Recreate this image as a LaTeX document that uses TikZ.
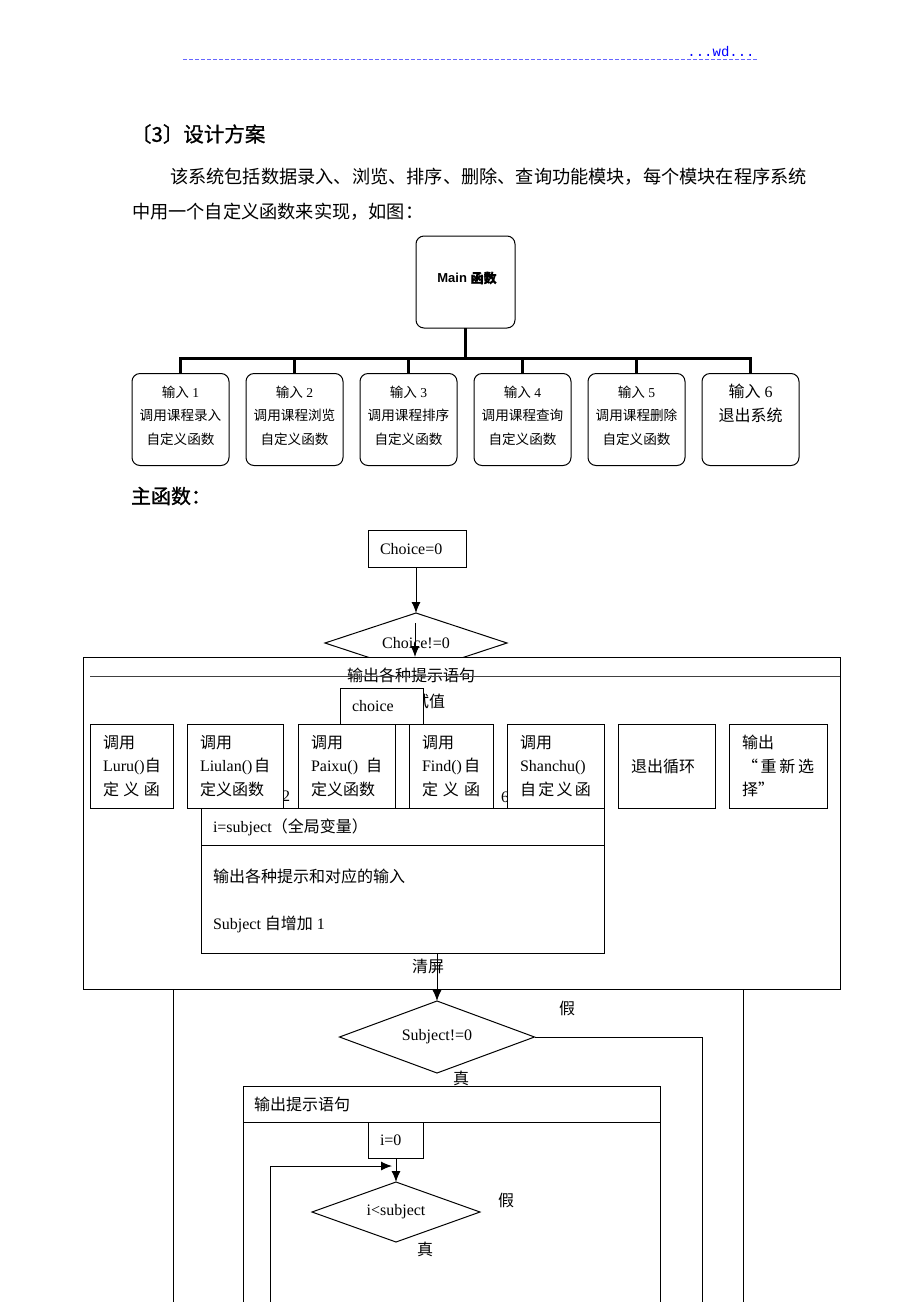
\documentclass[tikz,border=0pt]{standalone}
\usepackage{fontspec}
\usetikzlibrary{shapes.geometric,arrows.meta}
\setmainfont{Liberation Serif}
\newfontfamily\cjk{Noto Sans CJK SC}
\newfontfamily\cjkbold{Noto Sans CJK SC}[FakeBold=1]
\newfontfamily\monofnt{Liberation Mono}
\newfontfamily\sansfnt{Liberation Sans}
\newcommand\zh[1]{{\cjk #1}}
\newcommand\fs[2]{\fontsize{#1}{#2}\selectfont}
\newcommand\jl[2]{\leavevmode\hbox to #1{#2}}
\begin{document}
\begin{tikzpicture}[x=1pt,y=-1pt,
 every node/.style={inner sep=0pt, outer sep=0pt},
 ln/.style={line width=1pt, draw=black},
 fc/.style={draw, line width=1pt, fill=white},
 rbox/.style={draw, line width=1pt, rounded corners=8pt, fill=white, minimum width=97pt, minimum height=92pt},
 thk/.style={line width=3.5pt},
 arr/.style={line width=1pt, -{Latex[length=11pt,width=9pt]}},
 ft/.style={font=\fs{16}{23.5}},
 cbox/.style={fc, minimum height=84pt, align=left, font=\fs{16}{23.5}},
 dia/.style={diamond, draw, line width=1pt, fill=white, aspect=3, font=\fs{16}{20}},
 ttxt/.style={align=center, font=\fs{13.6}{23.5}},
]
\useasboundingbox[fill=white] (0,0) rectangle (920,1302);
\clip (0,0) rectangle (920,1302);

% header
\coordinate (hdl) at (183,59);
\coordinate (hdr) at (757,59);
\draw[blue!60, line width=1pt, dash pattern=on 4pt off 2pt] (hdl) -- (hdr);
\node[text=blue, font=\monofnt\fs{14}{16}] (wd) at (721,52) {...wd...};

% heading and paragraph
\node[anchor=west, font=\cjkbold\fs{20.5}{24}] (h3) at (131,134) {〔3〕设计方案};
\node[anchor=west, font=\cjk\fs{18.2}{20}] (p1) at (170,177) {该系统包括数据录入、浏览、排序、删除、查询功能模块，每个模块在程序系统};
\node[anchor=west, font=\cjk\fs{18.2}{20}] (p2) at (132,212) {中用一个自定义函数来实现，如图：};

% module chart
\node[rbox, minimum width=99pt] (m) at (465.5,282) {};
\node (mt) at (467,278) {\sansfnt\bfseries\fs{13}{15}Main {\cjkbold 函数}};
\foreach \i/\x in {1/180.5,2/294.5,3/408.5,4/522.5,5/636.5,6/750.5}
  \node[rbox] (b\i) at (\x,419.5) {};
\coordinate (bar) at (465.5,359);
\draw[thk] (m.south) -- (bar);
\draw[thk] (b1.north) -- ++(0,-15) -| (b6.north);
\foreach \i in {2,3,4,5} \draw[thk] (b\i.north) -- ++(0,-15);
\node[ttxt] (t1) at (180.5,415.5) {\zh{输入} 1\\\zh{调用课程录入}\\\zh{自定义函数}};
\node[ttxt] (t2) at (294.5,415.5) {\zh{输入} 2\\\zh{调用课程浏览}\\\zh{自定义函数}};
\node[ttxt] (t3) at (408.5,415.5) {\zh{输入} 3\\\zh{调用课程排序}\\\zh{自定义函数}};
\node[ttxt] (t4) at (522.5,415.5) {\zh{输入} 4\\\zh{调用课程查询}\\\zh{自定义函数}};
\node[ttxt] (t5) at (636.5,415.5) {\zh{输入} 5\\\zh{调用课程删除}\\\zh{自定义函数}};
\node[align=center, font=\fs{16}{23.5}] (t6) at (750.5,403.5) {\zh{输入} 6\\\zh{退出系统}};

\node[anchor=west, font=\cjkbold\fs{20}{24}] (zhs) at (131,496) {主函数：};

% flowchart
\node[fc, minimum width=98pt, minimum height=37pt, text width=74pt, align=left, font=\fs{16}{20}] (c0) at (417,549) {Choice=0};
\node[dia, minimum width=182pt, minimum height=60pt] (d1) at (416,643) {Choice!=0};
\draw[arr] (d1.north |- c0.south) -- (d1.north);

\node[fc, minimum width=757pt, minimum height=332pt] (big) at (461.5,823) {};
\coordinate (a2s) at (415,623);
\draw[arr] (a2s) -- (a2s |- big.north);

\node[ft] (out1) at (411,675) {\zh{输出各种提示语句}};
\coordinate (hl) at (90,676);
\draw[black!75, line width=1pt] (hl) -- (hl -| big.east);
\node[anchor=west, ft] (sz) at (413,701) {\zh{试值}};
\node[fc, minimum width=83pt, minimum height=36pt, text width=59pt, align=left, font=\fs{16}{20}] (ch) at (381.5,706) {choice};

\node[ft] (n2) at (286,796) {2};
\node[ft] (n6) at (505,797) {6};

\node[cbox, minimum width=83pt, text width=57pt] (k1) at (131.5,766)
 {\zh{调用}\\\jl{57pt}{Luru()\hfill\zh{自}}\\\jl{57pt}{\zh{定}\hfill\zh{义}\hfill\zh{函}}};
\node[cbox, minimum width=96pt, text width=70pt] (k2) at (235,766)
 {\zh{调用}\\\jl{70pt}{Liulan()\hfill\zh{自}}\\\zh{定义函数}};
\node[cbox, minimum width=97pt, text width=71pt] (k3) at (346.5,766)
 {\zh{调用}\\\jl{71pt}{Paixu()\hfill\zh{自}}\\\zh{定义函数}};
\node[cbox, minimum width=84pt, text width=58pt] (k4) at (451,766)
 {\zh{调用}\\\jl{58pt}{Find()\hfill\zh{自}}\\\jl{58pt}{\zh{定}\hfill\zh{义}\hfill\zh{函}}};
\node[cbox, minimum width=97pt, text width=71pt] (k5) at (555.5,766)
 {\zh{调用}\\Shanchu()\\\jl{71pt}{\zh{自}\hfill\zh{定}\hfill\zh{义}\hfill\zh{函}}};
\node[cbox, minimum width=97pt, text width=71pt] (k6) at (666.5,766) {\zh{退出循环}};
\node[cbox, minimum width=98pt, text width=72pt] (k7) at (778,766)
 {\zh{输出}\\\jl{72pt}{\zh{“}\hfill\zh{重}\hfill\zh{新}\hfill\zh{选}}\\\zh{择”}};

\node[fc, minimum width=403pt, minimum height=145pt] (sub) at (402.5,880.5) {};
\draw[ln] (sub.west |- 0,845) -- (sub.east |- 0,845);
\node[anchor=west, ft] (s1) at (213,827) {i=subject\zh{（全局变量）}};
\node[anchor=west, ft] (s2) at (213,876) {\zh{输出各种提示和对应的输入}};
\node[anchor=west, ft] (s3) at (213,924) {Subject \zh{自增加} 1};

\node[ft] (qp) at (428,966) {\zh{清屏}};
\node[dia, minimum width=195pt, minimum height=72pt] (d2) at (437,1037) {Subject!=0};
\draw[arr] (d2.north |- sub.south) -- (d2.north);

\coordinate (ol1) at (173,989);
\coordinate (ol2) at (743,989);
\draw[ln] (ol1) -- (173,1310);
\draw[ln] (ol2) -- (743,1310);

\node[ft] (f1) at (567,1008) {\zh{假}};
\coordinate (fr) at (702,1310);
\draw[ln] (d2.east) -| (fr);
\node[ft] (z1) at (461,1078) {\zh{真}};

\node[fc, anchor=north west, minimum width=417pt, minimum height=240pt] (r2) at (243,1086) {};
\draw[ln] (r2.west |- 0,1122) -- (r2.east |- 0,1122);
\node[anchor=west, ft] (o2) at (254,1104) {\zh{输出提示语句}};
\node[fc, minimum width=55pt, minimum height=36pt, text width=31pt, align=left, font=\fs{16}{20}] (i0) at (395.5,1140) {i=0};
\node[dia, minimum width=168pt, minimum height=60pt] (d3) at (396,1212) {i<subject};
\draw[arr] (d3.north |- i0.south) -- (d3.north);
\coordinate (lp0) at (270,1310);
\coordinate (lp1) at (392,1166);
\draw[arr] (lp0) |- (lp1);
\node[ft] (f2) at (506,1200) {\zh{假}};
\node[ft] (z2) at (425,1249) {\zh{真}};
\end{tikzpicture}
\end{document}
